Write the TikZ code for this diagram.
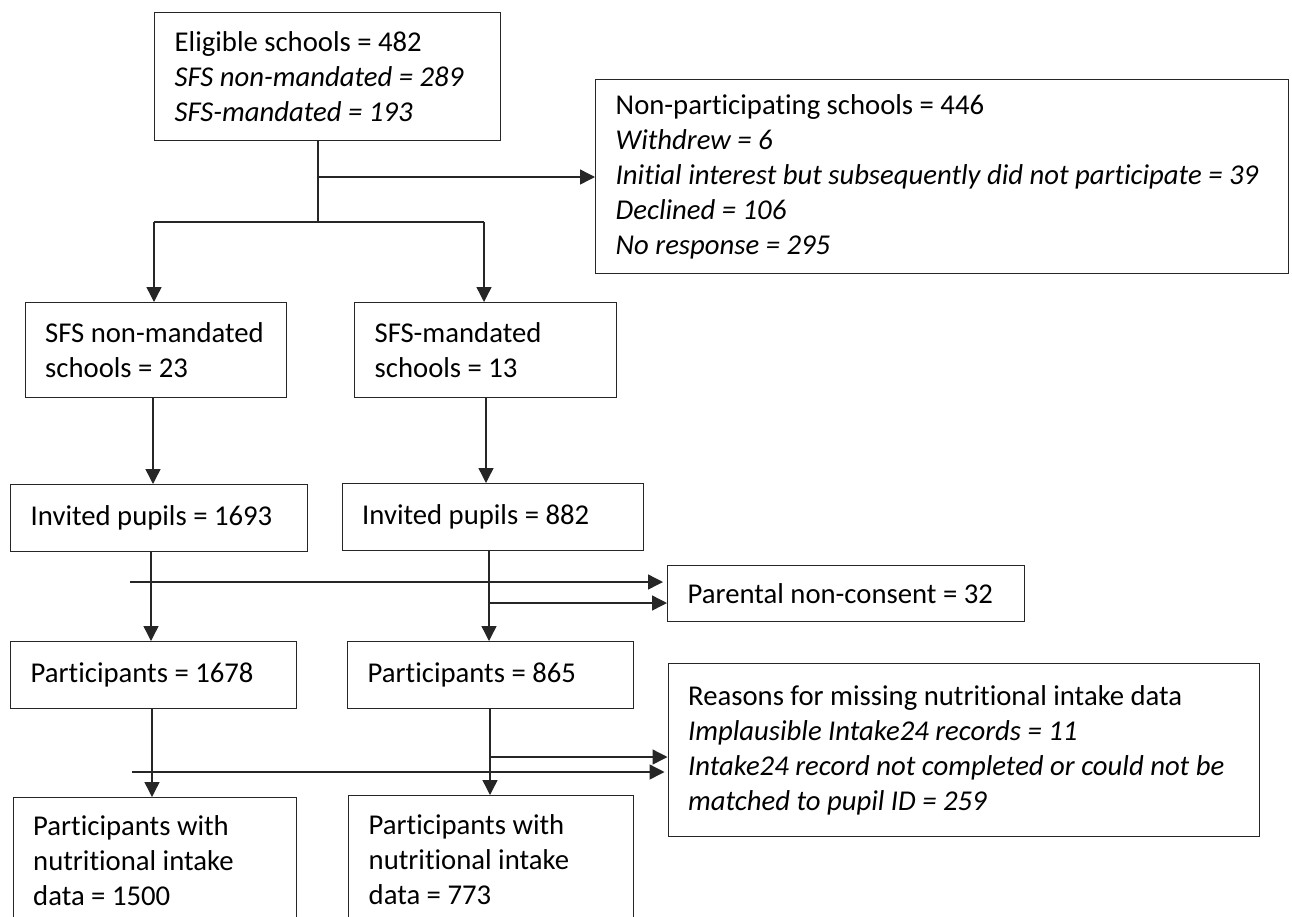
\documentclass[tikz,border=0pt]{standalone}
\usepackage{fontspec}
\setmainfont[Ligatures=NoCommon]{Carlito}
\usetikzlibrary{arrows.meta}
\tikzset{
  box/.style={draw=black!85, line width=1.4pt, inner xsep=20pt, inner ysep=0pt, align=flush left,
    font=\fontsize{28.7}{35}\selectfont, anchor=north west, fill=white},
  conn/.style={line width=1.4pt, draw=black!85},
  arr/.style={conn, -{Triangle[length=15pt,width=15pt]}}
}
\begin{document}
\begin{tikzpicture}[x=1pt,y=-1pt]
\clip (0,0) rectangle (1292,916);
\fill[white] (0,0) rectangle (1292,916);
% boxes
\node[box, text width=306pt, minimum height=128pt] (elig) at (154,12)
  {Eligible schools = 482\\\textit{SFS non-mandated = 289}\\\textit{SFS-mandated = 193}};
\node[box, text width=653pt, minimum height=194pt] (nonp) at (595,79)
  {Non-participating schools = 446\\\textit{Withdrew = 6}\\\textit{Initial interest but subsequently did not participate = 39}\\\textit{Declined = 106}\\\textit{No response = 295}};
\node[box, text width=221.5pt, minimum height=95pt] (sfsn) at (24.5,302)
  {SFS non-mandated\\schools = 23};
\node[box, text width=222pt, minimum height=95pt] (sfsm) at (354,302)
  {SFS-mandated\\schools = 13};
\node[box, text width=257pt, minimum height=67pt] (invn) at (10,484)
  {Invited pupils = 1693};
\node[box, text width=261.5pt, minimum height=67pt] (invm) at (341.5,483)
  {Invited pupils = 882};
\node[box, text width=317pt, minimum height=56pt] (pc) at (667,565)
  {Parental non-consent = 32};
\node[box, text width=246pt, minimum height=67pt] (partn) at (10,641)
  {Participants = 1678};
\node[box, text width=246pt, minimum height=67pt] (partm) at (347,641)
  {Participants = 865};
\node[box, text width=551.5pt, minimum height=173pt] (reas) at (667.5,663)
  {Reasons for missing nutritional intake data\\\textit{Implausible Intake24 records = 11}\\\textit{Intake24 record not completed or could not be}\\\textit{matched to pupil ID = 259}};
\node[box, text width=243.5pt, minimum height=126pt] (datan) at (12.5,797)
  {Participants with\\nutritional intake\\data = 1500};
\node[box, text width=245pt, minimum height=128pt] (datam) at (348,795)
  {Participants with\\nutritional intake\\data = 773};
% junction coordinates
\coordinate (j1) at (318,222);
\coordinate (jl) at (154,222);
\coordinate (jr) at (484,222);
\coordinate (j2) at (318,177);
\coordinate (cl1) at (153,0);
\coordinate (cr1) at (486,0);
\coordinate (cl2) at (151,0);
\coordinate (cr2) at (489,0);
\coordinate (cl3) at (152,0);
\coordinate (cr3) at (490,0);
\coordinate (s1) at (130,582);
\coordinate (s2) at (489,603);
\coordinate (s3) at (490,757);
\coordinate (s4) at (132,772);
% connectors
\draw[conn] (elig.south -| j1) -- (j1);
\draw[conn] (jl) -- (jr);
\draw[arr] (jl) -- (sfsn.north -| jl);
\draw[arr] (jr) -- (sfsm.north -| jr);
\draw[arr] (j2) -- (nonp.west |- j2);
\draw[arr] (sfsn.south -| cl1) -- (invn.north -| cl1);
\draw[arr] (sfsm.south -| cr1) -- (invm.north -| cr1);
\draw[arr] (invn.south -| cl2) -- (partn.north -| cl2);
\draw[arr] (invm.south -| cr2) -- (partm.north -| cr2);
\draw[arr, shorten >=4pt] (s1) -- (pc.west |- s1);
\draw[arr] (s2) -- (pc.west |- s2);
\draw[arr] (partn.south -| cl3) -- (datan.north -| cl3);
\draw[arr] (partm.south -| cr3) -- (datam.north -| cr3);
\draw[arr] (s3) -- (reas.west |- s3);
\draw[arr, shorten >=3pt] (s4) -- (reas.west |- s4);
\end{tikzpicture}
\end{document}
